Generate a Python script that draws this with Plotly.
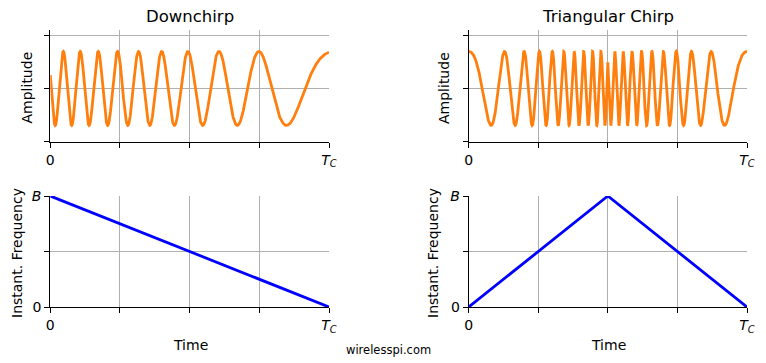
import numpy as np
import plotly.graph_objects as go

# ---- data ----
time_ticks_major = [0.0, 1.0]
time_tick_labels = ["0", "<i>T</i><sub><i>C</i></sub>"]
time_ticks_minor = [0.25, 0.5, 0.75]

amp_ticks = [-1.44, 0.0, 1.44]
freq_ticks = [0.0, 0.5, 1.0]
freq_tick_labels = ["0", " ", "<i>B</i>"]

# instantaneous frequency (normalised: 0..B over 0..Tc)
down_freq_t = [0.0, 1.0]
down_freq = [1.0, 0.0]
tri_freq_t = [0.0, 0.5, 1.0]
tri_freq = [0.0, 1.0, 0.0]

# waveform parameters (cycles per Tc)
down_f_start = 17.7
down_f_end = 1.85
down_phase = 0.191
tri_f_start = 3.6
tri_f_peak = 35.9

# ---- waveforms ----
t = np.linspace(0, 1, 3001)
phi_down = down_f_start * t + (down_f_end - down_f_start) * t ** 2 / 2
s_down = np.cos(2 * np.pi * (phi_down + down_phase))

th = np.minimum(t, 1 - t)
phi_tri = tri_f_start * th + (tri_f_peak - tri_f_start) * th ** 2
s_tri = np.cos(2 * np.pi * phi_tri)

W, H = 766, 363
def fx(px):
    return px / W
def fy(py):
    return 1 - py / H

left_x = [fx(50.3), fx(329)]
right_x = [fx(468.7), fx(747)]
top_y = [fy(141.7), fy(30)]
bot_y = [fy(307), fy(196)]

ORANGE = "#ff7f0e"
GRID = "#b0b0b0"
FONT = "DejaVu Sans"

fig = go.Figure()
fig.add_trace(go.Scatter(x=t, y=s_down, mode="lines", line=dict(color=ORANGE, width=2.8),
                         xaxis="x", yaxis="y", showlegend=False, hoverinfo="skip"))
fig.add_trace(go.Scatter(x=t, y=s_tri, mode="lines", line=dict(color=ORANGE, width=2.8),
                         xaxis="x2", yaxis="y2", showlegend=False, hoverinfo="skip"))
fig.add_trace(go.Scatter(x=down_freq_t, y=down_freq, mode="lines", line=dict(color="blue", width=2.8),
                         xaxis="x3", yaxis="y3", showlegend=False, hoverinfo="skip"))
fig.add_trace(go.Scatter(x=tri_freq_t, y=tri_freq, mode="lines", line=dict(color="blue", width=2.8),
                         xaxis="x4", yaxis="y4", showlegend=False, hoverinfo="skip"))

def xaxis(domain, anchor):
    return dict(domain=domain, anchor=anchor, range=[0, 1], automargin=False,
                showline=True, linecolor="black",
                linewidth=1.1, ticks="outside", ticklen=5, tickwidth=1.1, tickcolor="black",
                tickmode="array", tickvals=time_ticks_major, ticktext=time_tick_labels,
                showgrid=False, zeroline=False,
                tickfont=dict(family=FONT, size=14, color="black"),
                minor=dict(tickmode="array", tickvals=time_ticks_minor, ticks="outside",
                           ticklen=5, tickwidth=1.1, tickcolor="black", showgrid=True,
                           gridcolor=GRID, gridwidth=1.1))

def yaxis_amp(domain, anchor):
    return dict(domain=domain, anchor=anchor, range=[-1.44, 1.58], automargin=False,
                showline=True, linecolor="black",
                linewidth=1.1, ticks="outside", ticklen=5, tickwidth=1.1, tickcolor="black",
                tickmode="array", tickvals=amp_ticks, showticklabels=False,
                showgrid=True, gridcolor=GRID, gridwidth=1.1, zeroline=False)

def yaxis_freq(domain, anchor):
    return dict(domain=domain, anchor=anchor, range=[0, 1], automargin=False,
                showline=True, linecolor="black",
                linewidth=1.1, ticks="outside", ticklen=5, tickwidth=1.1, tickcolor="black",
                tickmode="array", tickvals=freq_ticks, ticktext=freq_tick_labels,
                tickfont=dict(family=FONT, size=14, color="black"),
                showgrid=True, gridcolor=GRID, gridwidth=1.1, zeroline=False)

ann = []
def text(s, px, py, size=14, angle=0):
    ann.append(dict(text=s, x=fx(px), y=fy(py), xref="paper", yref="paper", showarrow=False,
                    xanchor="center", yanchor="middle", textangle=angle,
                    font=dict(family=FONT, size=size, color="black")))

text("Downchirp", 190, 16, 16.5)
text("Triangular Chirp", 608, 16, 16.5)
text("Amplitude", 26.5, 88, 14, -90)
text("Amplitude", 444, 88, 14, -90)
text("Instant. Frequency", 17, 253, 14, -90)
text("Instant. Frequency", 433, 253, 14, -90)
text("Time", 190, 345, 14)
text("Time", 608, 345, 14)
text("wirelesspi.com", 388, 350, 11.5)

fig.update_layout(
    template="none",
    width=W, height=H, margin=dict(l=0, r=0, t=0, b=0, autoexpand=False),
    paper_bgcolor="white", plot_bgcolor="white",
    font=dict(family=FONT, color="black"),
    xaxis=xaxis(left_x, "y"), yaxis=yaxis_amp(top_y, "x"),
    xaxis2=xaxis(right_x, "y2"), yaxis2=yaxis_amp(top_y, "x2"),
    xaxis3=xaxis(left_x, "y3"), yaxis3=yaxis_freq(bot_y, "x3"),
    xaxis4=xaxis(right_x, "y4"), yaxis4=yaxis_freq(bot_y, "x4"),
    annotations=ann,
)

fig.write_html("out.html", config={"displayModeBar": False},
               post_script="document.body.style.margin='0';document.body.style.overflow='hidden';")
